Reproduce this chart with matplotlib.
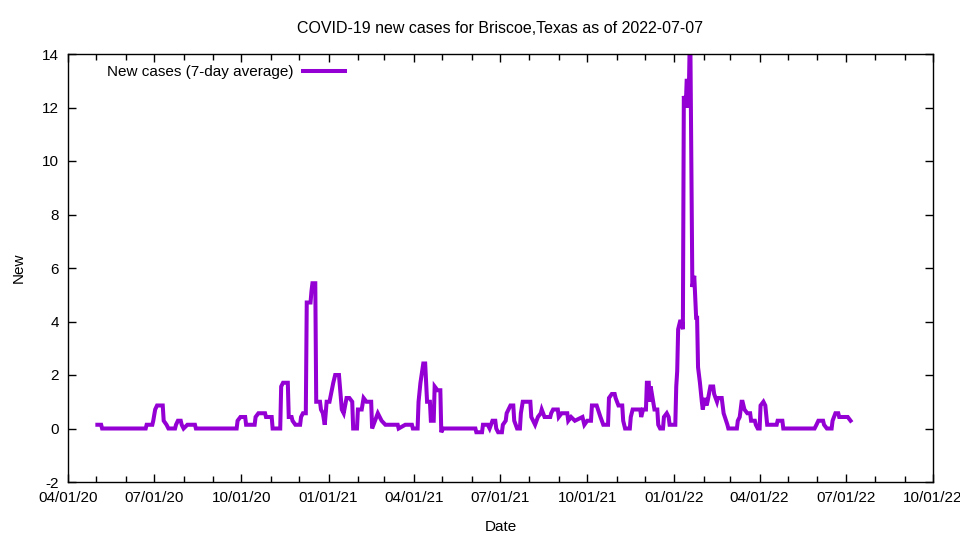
import matplotlib
matplotlib.use("Agg")
import matplotlib.pyplot as plt
import matplotlib.dates as mdates
import pandas as pd

plt.rcParams['font.family'] = ['Liberation Sans', 'DejaVu Sans']
plt.rcParams['axes.unicode_minus'] = False

start_date = "2020-04-01"
# days since 2020-04-01 and 7-day average values
days = [31, 35, 36, 82, 83, 89, 90, 92, 94, 100, 101, 104, 106, 113, 114, 116, 119, 120, 122, 126,
        134, 135, 178, 179, 182, 187, 188, 197, 198, 201, 208, 209, 211, 215, 216, 224, 225, 227,
        232, 233, 236, 237, 240, 245, 246, 248, 251, 252, 256, 257, 258, 261, 262, 266, 267, 269,
        271, 273, 276, 280, 282, 286, 289, 291, 294, 297, 300, 301, 305, 306, 310, 312, 315, 320,
        321, 324, 327, 331, 335, 348, 349, 356, 363, 364, 369, 370, 372, 375, 377, 379, 382, 383,
        386, 387, 390, 393, 394, 396, 430, 431, 437, 438, 443, 445, 448, 451, 452, 454, 458, 459,
        462, 463, 467, 470, 471, 474, 477, 478, 480, 488, 489, 493, 496, 499, 500, 503, 509, 510,
        512, 517, 518, 521, 527, 528, 531, 535, 543, 545, 548, 552, 553, 558, 562, 565, 570, 571,
        574, 577, 578, 581, 585, 586, 588, 593, 594, 596, 604, 605, 607, 610, 611, 613, 614, 615,
        617, 619, 622, 623, 625, 628, 629, 632, 634, 635, 641, 642, 643, 644, 646, 648, 649, 650,
        652, 653, 654, 655, 656, 657, 659, 661, 663, 664, 665, 667, 669, 670, 672, 674, 675, 678,
        681, 682, 685, 686, 690, 691, 692, 696, 697, 706, 707, 709, 710, 711, 712, 714, 717, 720,
        721, 725, 726, 728, 730, 731, 734, 736, 738, 748, 749, 754, 755, 788, 790, 792, 797, 798,
        801, 806, 807, 810, 813, 814, 817, 823, 826]
new_cases = [0.14, 0.14, 0.0, 0.0, 0.14, 0.14, 0.29, 0.71, 0.86, 0.86, 0.29, 0.14, 0.0, 0.0, 0.14, 0.29,
             0.29, 0.14, 0.0, 0.14, 0.14, 0.0, 0.0, 0.29, 0.43, 0.43, 0.14, 0.14, 0.43, 0.57, 0.57,
             0.43, 0.43, 0.43, 0.0, 0.0, 1.57, 1.71, 1.71, 0.43, 0.43, 0.29, 0.14, 0.14, 0.43, 0.57,
             0.57, 4.71, 4.71, 5.14, 5.43, 5.43, 1.0, 1.0, 0.71, 0.57, 0.14, 1.0, 1.0, 1.71, 2.0, 2.0,
             0.71, 0.57, 1.14, 1.14, 1.0, 0.0, 0.0, 0.71, 0.71, 1.14, 1.0, 1.0, 0.0, 0.29, 0.57, 0.29,
             0.14, 0.14, 0.0, 0.14, 0.14, 0.0, 0.0, 1.0, 1.71, 2.43, 2.43, 1.0, 1.0, 0.29, 0.29, 1.57,
             1.43, 1.43, -0.14, 0.0, 0.0, -0.14, -0.14, 0.14, 0.14, 0.0, 0.29, 0.29, 0.0, -0.14, -0.14,
             0.14, 0.29, 0.57, 0.86, 0.86, 0.29, 0.0, 0.0, 0.57, 1.0, 1.0, 0.43, 0.14, 0.43, 0.57,
             0.71, 0.43, 0.43, 0.57, 0.71, 0.71, 0.43, 0.57, 0.57, 0.29, 0.43, 0.29, 0.43, 0.14, 0.29,
             0.29, 0.86, 0.86, 0.43, 0.14, 0.14, 1.14, 1.29, 1.29, 1.14, 0.86, 0.86, 0.29, 0.0, 0.0,
             0.43, 0.71, 0.71, 0.43, 0.71, 0.71, 1.71, 1.71, 1.0, 1.57, 1.14, 0.71, 0.71, 0.14, 0.0,
             0.0, 0.43, 0.57, 0.43, 0.14, 0.14, 1.57, 2.14, 3.71, 4.0, 4.0, 3.71, 12.43, 12.0, 13.0,
             13.0, 12.0, 14.0, 14.0, 5.29, 5.71, 4.14, 4.14, 2.29, 1.71, 1.0, 0.71, 1.14, 0.86, 1.0,
             1.57, 1.57, 1.29, 1.0, 1.14, 1.14, 0.86, 0.57, 0.14, 0.0, 0.0, 0.29, 0.43, 0.71, 1.0, 1.0,
             0.71, 0.57, 0.57, 0.29, 0.29, 0.14, 0.0, 0.0, 0.86, 1.0, 0.86, 0.14, 0.14, 0.29, 0.29, 0.0,
             0.0, 0.14, 0.29, 0.29, 0.14, 0.0, 0.0, 0.29, 0.57, 0.57, 0.43, 0.43, 0.43, 0.29]

title = "COVID-19 new cases for Briscoe,Texas as of 2022-07-07"
series_label = "New cases (7-day average)"
y_ticks = [-2, 0, 2, 4, 6, 8, 10, 12, 14]

dates = pd.Timestamp(start_date) + pd.to_timedelta(days, unit="D")

fig = plt.figure(figsize=(9.6, 5.4), dpi=100)
ax = fig.add_axes([68 / 960, 58 / 540, 865 / 960, 428 / 540])

ax.plot(dates, new_cases, color="#9400D3", linewidth=2.9, label=series_label,
        solid_joinstyle="miter")

ax.set_xlim(pd.Timestamp("2020-04-01"), pd.Timestamp("2022-10-01"))
ax.set_ylim(-2, 14)
ax.set_yticks(y_ticks)
ax.xaxis.set_major_locator(mdates.MonthLocator(bymonth=[1, 4, 7, 10]))
ax.xaxis.set_major_formatter(mdates.DateFormatter("%m/%d/%y"))
ax.xaxis.set_minor_locator(mdates.MonthLocator())

ax.tick_params(which="both", direction="in", top=True, right=True, labelsize=11,
               width=1, color="black", pad=6.5)
ax.tick_params(which="major", length=6)
ax.tick_params(which="minor", length=4)
for s in ax.spines.values():
    s.set_linewidth(1)
    s.set_color("black")

ax.set_title(title, fontsize=11.5, pad=15)
ax.set_xlabel("Date", fontsize=11, labelpad=10.5)
ax.set_ylabel("New", fontsize=11, labelpad=12)

ax.legend(loc="upper left", bbox_to_anchor=(0.045, 0.974), frameon=False, markerfirst=False,
          fontsize=11, handlelength=2.75, handletextpad=0.65, borderaxespad=0, borderpad=0)

fig.savefig("out.png", dpi=100)
